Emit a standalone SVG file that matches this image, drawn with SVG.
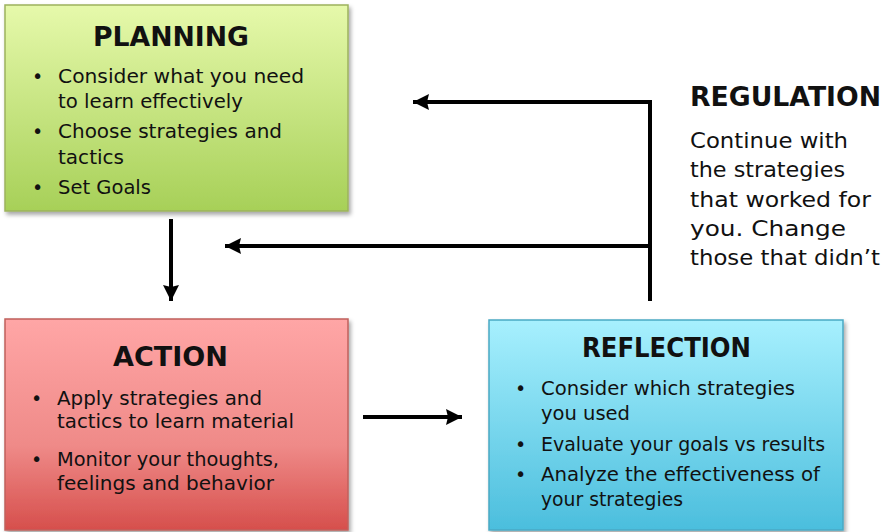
<svg xmlns="http://www.w3.org/2000/svg" width="890" height="532" viewBox="0 0 890 532">
  <defs>
    <linearGradient id="gPlan" x1="0" y1="0" x2="0" y2="1">
      <stop offset="0" stop-color="#e6f9ab"/>
      <stop offset="1" stop-color="#a7d058"/>
    </linearGradient>
    <linearGradient id="gAct" x1="0" y1="0" x2="0" y2="1">
      <stop offset="0" stop-color="#ffa6a6"/>
      <stop offset="0.6" stop-color="#ef8a88"/>
      <stop offset="1" stop-color="#d64f4c"/>
    </linearGradient>
    <linearGradient id="gRef" x1="0" y1="0" x2="0" y2="1">
      <stop offset="0" stop-color="#a7f0fe"/>
      <stop offset="1" stop-color="#4bbedd"/>
    </linearGradient>
    <filter id="shadow" x="-5%" y="-5%" width="112%" height="115%">
      <feDropShadow dx="2" dy="3" stdDeviation="2" flood-color="#000" flood-opacity="0.35"/>
    </filter>
    <marker id="arrow" markerUnits="userSpaceOnUse" markerWidth="18" markerHeight="18" refX="16" refY="8" orient="auto">
      <path d="M0,0 L16,8 L0,16 L2,8 Z" fill="#000"/>
    </marker>
  </defs>
  <style>
    text { font-family: "DejaVu Sans", "Liberation Sans", sans-serif; fill: #111; }
    .title { font-size: 27px; font-weight: bold; text-anchor: middle; }
    .body { font-size: 19px; }
    .bullet { font-size: 19px; }
    .reg { font-size: 22px; }
    .conn { fill: none; stroke: #000; stroke-width: 4; stroke-linejoin: miter; }
  </style>

  <!-- PLANNING -->
  <g id="planning">
    <rect x="5" y="5" width="343" height="206" fill="url(#gPlan)" stroke="#9db25e" stroke-width="1.5" filter="url(#shadow)"/>
    <text class="title" x="171" y="46" textLength="156" lengthAdjust="spacingAndGlyphs">PLANNING</text>
    <text class="bullet" x="32" y="83">•</text>
    <text class="body" x="58" y="83" textLength="246" lengthAdjust="spacingAndGlyphs">Consider what you need</text>
    <text class="body" x="58" y="108" textLength="185" lengthAdjust="spacingAndGlyphs">to learn effectively</text>
    <text class="bullet" x="32" y="138">•</text>
    <text class="body" x="58" y="138" textLength="224" lengthAdjust="spacingAndGlyphs">Choose strategies and</text>
    <text class="body" x="58" y="164" textLength="66" lengthAdjust="spacingAndGlyphs">tactics</text>
    <text class="bullet" x="32" y="194">•</text>
    <text class="body" x="58" y="194" textLength="93" lengthAdjust="spacingAndGlyphs">Set Goals</text>
  </g>

  <!-- ACTION -->
  <g id="action">
    <rect x="5" y="319" width="343" height="211" fill="url(#gAct)" stroke="#c0605c" stroke-width="1.5" filter="url(#shadow)"/>
    <text class="title" x="170.5" y="366" textLength="115" lengthAdjust="spacingAndGlyphs">ACTION</text>
    <text class="bullet" x="31" y="405">•</text>
    <text class="body" x="57" y="405" textLength="205" lengthAdjust="spacingAndGlyphs">Apply strategies and</text>
    <text class="body" x="57" y="428" textLength="237" lengthAdjust="spacingAndGlyphs">tactics to learn material</text>
    <text class="bullet" x="31" y="466">•</text>
    <text class="body" x="57" y="466" textLength="222" lengthAdjust="spacingAndGlyphs">Monitor your thoughts,</text>
    <text class="body" x="57" y="490" textLength="217" lengthAdjust="spacingAndGlyphs">feelings and behavior</text>
  </g>

  <!-- REFLECTION -->
  <g id="reflection">
    <rect x="489" y="320" width="354" height="210" fill="url(#gRef)" stroke="#4aa9c4" stroke-width="1.5" filter="url(#shadow)"/>
    <text class="title" x="666.5" y="357" textLength="169" lengthAdjust="spacingAndGlyphs">REFLECTION</text>
    <text class="bullet" x="515" y="395">•</text>
    <text class="body" x="541" y="395" textLength="254" lengthAdjust="spacingAndGlyphs">Consider which strategies</text>
    <text class="body" x="541" y="420" textLength="89" lengthAdjust="spacingAndGlyphs">you used</text>
    <text class="bullet" x="515" y="451">•</text>
    <text class="body" x="541" y="451" textLength="284" lengthAdjust="spacingAndGlyphs">Evaluate your goals vs results</text>
    <text class="bullet" x="515" y="481">•</text>
    <text class="body" x="541" y="481" textLength="279" lengthAdjust="spacingAndGlyphs">Analyze the effectiveness of</text>
    <text class="body" x="541" y="506" textLength="142" lengthAdjust="spacingAndGlyphs">your strategies</text>
  </g>

  <!-- REGULATION note -->
  <g id="regulation">
    <text x="690" y="106" font-size="27" font-weight="bold" textLength="191" lengthAdjust="spacingAndGlyphs">REGULATION</text>
    <text class="reg" x="690" y="148" textLength="158" lengthAdjust="spacingAndGlyphs">Continue with</text>
    <text class="reg" x="690" y="177" textLength="155" lengthAdjust="spacingAndGlyphs">the strategies</text>
    <text class="reg" x="690" y="207" textLength="181" lengthAdjust="spacingAndGlyphs">that worked for</text>
    <text class="reg" x="690" y="236" textLength="156" lengthAdjust="spacingAndGlyphs">you. Change</text>
    <text class="reg" x="690" y="265" textLength="190" lengthAdjust="spacingAndGlyphs">those that didn’t</text>
  </g>

  <!-- connectors -->
  <g id="connectors">
    <path class="conn" d="M171,219 L171,301" marker-end="url(#arrow)"/>
    <path class="conn" d="M363,417 L462,417" marker-end="url(#arrow)"/>
    <path class="conn" d="M650,301 L650,102 L413,102" marker-end="url(#arrow)"/>
    <path class="conn" d="M650,246 L225,246" marker-end="url(#arrow)"/>
  </g>
</svg>
